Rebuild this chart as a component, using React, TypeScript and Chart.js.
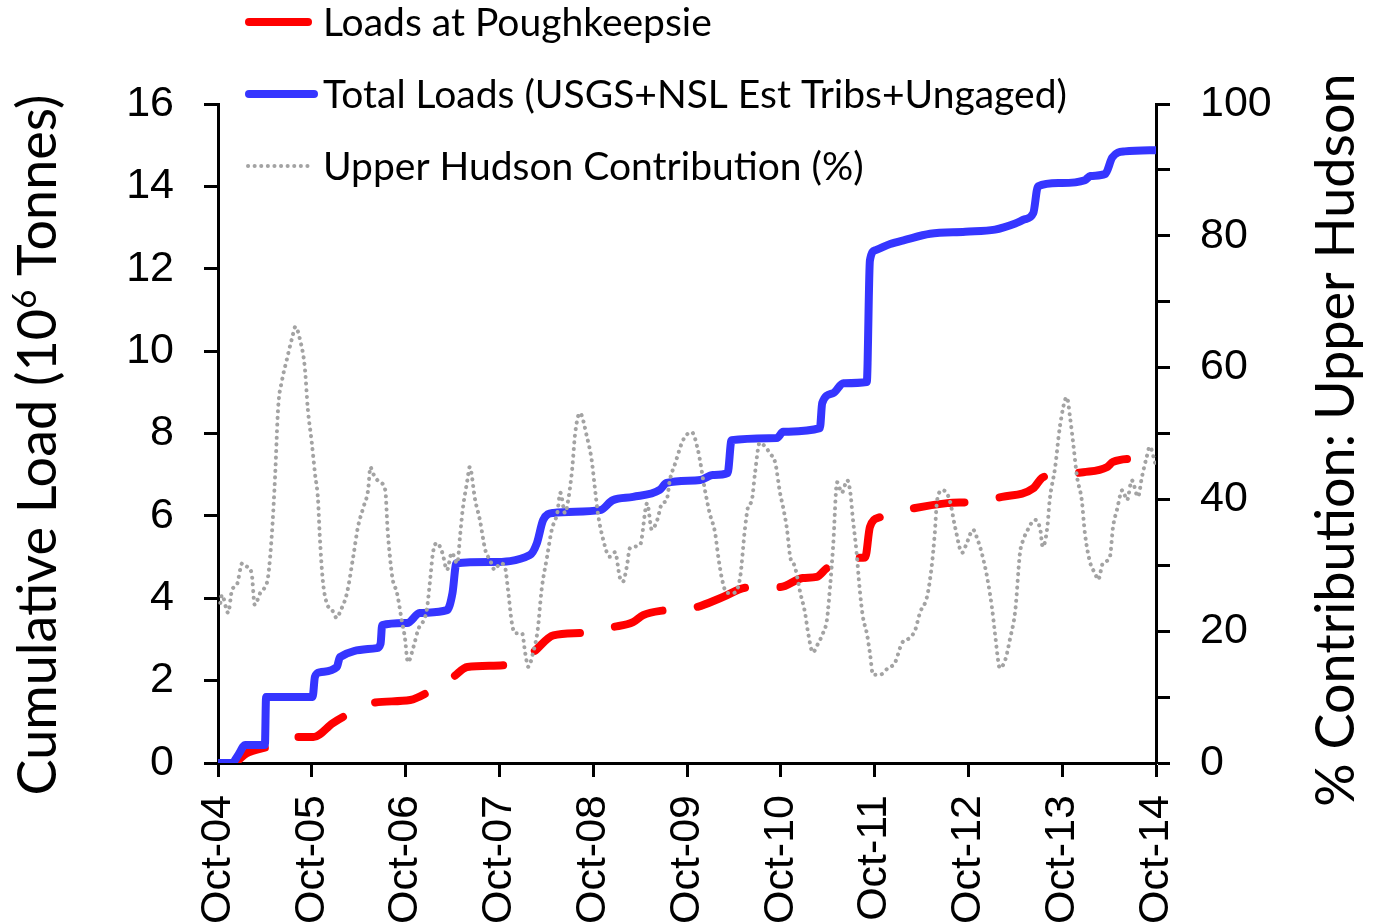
import React, { useEffect, useRef } from 'react';
import { Chart, registerables } from 'chart.js';

Chart.register(...registerables);

// X axis: months after October 2004, labelled every 12 months
const xTickLabels = ['Oct-04', 'Oct-05', 'Oct-06', 'Oct-07', 'Oct-08', 'Oct-09', 'Oct-10', 'Oct-11', 'Oct-12', 'Oct-13', 'Oct-14'];

// Loads at Poughkeepsie (10^6 tonnes)
const poughMonths = [0, 1.9, 3.7, 6.3, 10.1, 12.2, 14.7, 16.5, 19.8, 24.6, 26.9, 30.1, 31.9, 37.0, 40.3, 42.9, 46.7, 50.5, 53.1, 54.4, 57.2, 61.3, 64.6, 67.7, 71.9, 74.8, 76.6, 77.9, 81.9, 82.8, 83.4, 84.7, 88.9, 93.3, 96.5, 100.3, 104.3, 105.4, 106.7, 110.7, 113.7, 114.5, 117.6];
const poughLoads = [0, 0, 0.24, 0.39, 0.63, 0.63, 0.97, 1.17, 1.46, 1.53, 1.72, 2.09, 2.33, 2.38, 2.69, 3.1, 3.16, 3.3, 3.42, 3.59, 3.71, 3.79, 4.03, 4.26, 4.27, 4.49, 4.52, 4.73, 4.98, 4.99, 5.73, 5.97, 6.18, 6.31, 6.34, 6.46, 6.67, 6.92, 6.99, 7.06, 7.18, 7.31, 7.4];

// Total loads (USGS + NSL est. tribs + ungaged) (10^6 tonnes)
const totalMonths = [0, 1.8, 2.6, 3.5, 6.0, 6.15, 12.1, 12.4, 13.0, 15.2, 15.6, 20.3, 20.8, 21.0, 24.2, 25.8, 29.3, 30.0, 30.5, 34.8, 39.9, 40.8, 41.6, 42.9, 48.9, 50.5, 53.1, 56.5, 57.4, 61.7, 63.3, 65.2, 65.7, 71.5, 72.3, 77.0, 77.3, 78.7, 80.0, 83.0, 83.4, 84.1, 86.0, 87.9, 91.1, 95.6, 99.4, 102.0, 103.2, 104.3, 104.9, 107.7, 110.9, 111.6, 113.5, 114.4, 116.0, 120];
const totalLoads = [0, 0, 0.2, 0.44, 0.44, 1.6, 1.6, 2.09, 2.2, 2.33, 2.57, 2.79, 2.9, 3.35, 3.4, 3.64, 3.71, 4.13, 4.85, 4.88, 5.05, 5.34, 5.9, 6.07, 6.14, 6.38, 6.46, 6.63, 6.8, 6.87, 6.99, 7.04, 7.84, 7.89, 8.04, 8.13, 8.74, 8.98, 9.22, 9.25, 12.2, 12.45, 12.6, 12.7, 12.85, 12.9, 12.95, 13.1, 13.2, 13.35, 14.0, 14.08, 14.15, 14.25, 14.3, 14.7, 14.85, 14.88];

// Upper Hudson contribution (%)
const upperMonths = [0.3, 0.5, 1.3, 1.8, 2.4, 3.1, 3.7, 4.3, 4.7, 5.4, 6.0, 6.4, 6.9, 7.3, 7.7, 8.2, 8.8, 9.5, 9.9, 10.5, 11.1, 11.5, 12.0, 12.4, 12.8, 13.0, 13.4, 13.9, 14.6, 15.2, 15.6, 16.5, 17.3, 17.9, 18.6, 19.2, 19.5, 19.8, 20.7, 21.4, 21.7, 22.3, 22.9, 23.5, 23.9, 24.3, 25.0, 25.6, 26.7, 27.1, 27.5, 28.0, 28.7, 29.3, 29.9, 30.6, 31.0, 31.3, 31.9, 32.2, 32.9, 33.5, 34.2, 34.8, 35.4, 36.1, 36.7, 37.1, 37.6, 38.0, 38.9, 39.3, 39.7, 40.3, 40.9, 41.4, 42.1, 42.7, 43.4, 43.8, 44.4, 44.8, 45.3, 45.7, 46.3, 47.2, 47.8, 48.2, 48.6, 49.3, 50.1, 50.8, 51.4, 51.8, 52.3, 52.7, 54.0, 54.9, 55.5, 56.2, 56.8, 57.4, 57.8, 58.5, 59.5, 60.6, 61.4, 62.3, 62.9, 63.6, 64.0, 64.5, 65.1, 65.9, 66.8, 67.4, 67.8, 68.3, 68.7, 69.3, 70.0, 70.6, 71.3, 71.9, 72.3, 72.8, 73.2, 73.8, 74.5, 75.1, 75.5, 76.1, 76.8, 77.4, 77.9, 78.3, 78.7, 79.2, 79.8, 80.5, 80.9, 81.2, 81.7, 82.1, 82.5, 83.0, 83.4, 83.8, 84.7, 85.7, 86.6, 87.5, 88.5, 89.2, 89.8, 90.7, 91.3, 91.7, 92.0, 92.7, 93.6, 94.3, 95.2, 95.8, 96.6, 97.2, 97.7, 98.4, 99.0, 99.4, 99.8, 100.0, 100.7, 101.3, 102.0, 102.6, 103.0, 103.6, 104.5, 105.2, 105.5, 106.1, 106.4, 107.1, 107.7, 108.6, 109.0, 109.4, 109.9, 110.5, 110.9, 111.6, 112.2, 112.6, 113.2, 114.1, 114.5, 115.0, 115.7, 116.3, 116.9, 117.7, 118.2, 118.8, 119.2, 119.9];
const upperPct = [24.3, 25.5, 22.8, 26.3, 27, 30.3, 29.8, 28.8, 24, 25.8, 26.7, 28.2, 34.9, 43.4, 54, 58.1, 61.2, 64.6, 66.2, 64.2, 60.1, 53.6, 48.6, 44, 39.9, 34.9, 27.8, 24.3, 23.2, 22, 22.9, 25.8, 31.3, 35.8, 38.8, 41.4, 44.9, 44, 42.6, 41.4, 35.4, 28.2, 25.8, 21.7, 19.1, 15.3, 17.6, 20.2, 23.2, 27.3, 31.9, 33.4, 31.9, 29.3, 31.9, 30.3, 34.9, 38.4, 42.9, 44.9, 39.9, 36.9, 32.3, 30.8, 29.3, 30.3, 29.8, 26.3, 21.2, 19.7, 19.7, 16.7, 14.6, 16.7, 20.2, 26.3, 31.3, 35.4, 37.9, 41, 37.9, 39.9, 44.5, 50.1, 53.1, 49.5, 46, 41.9, 37.9, 33.8, 31.3, 32, 28.2, 27.5, 29.8, 32.6, 33.1, 39.4, 35.4, 36.9, 39.4, 39.9, 42.9, 45.5, 49, 50.2, 47.5, 41.4, 37.9, 34.9, 31.3, 27.8, 25.8, 25.8, 28.2, 35.4, 38.8, 39.9, 44, 48.6, 48, 47, 45.5, 41, 38.8, 35.4, 31.3, 29.8, 25.8, 22.8, 19.7, 16.8, 18.2, 19.7, 21.7, 26.7, 33, 42.6, 41, 42.9, 41, 37.3, 31.9, 26.3, 22.2, 19.7, 16.7, 13.4, 13.4, 14.4, 15.2, 18.2, 19, 20.2, 22.8, 25.2, 29.8, 34.9, 39.9, 41.4, 39.9, 35.8, 31.9, 33.4, 35.4, 33.8, 31.9, 28.2, 23.7, 19.7, 15.6, 14.4, 15.6, 18.7, 23.2, 31.9, 33.8, 35.4, 36.9, 35.4, 32.8, 35.8, 39.9, 44.9, 51, 55.5, 52.5, 48.6, 43.4, 39.9, 34.9, 30.3, 28.8, 27.8, 30.3, 31.3, 35.8, 38.4, 41.4, 39.9, 42.9, 40.4, 43.4, 46.4, 48, 45.5];

const leftTitle = ['Cumulative Load (10', '6', ' Tonnes)'];
const rightTitle = '% Contribution: Upper Hudson';

const RED = '#FF0000';
const BLUE = '#3535FF';
const GRAY = '#A3A3A3';

const TITLE_FONT = 'Lato';
const TICK_FONT = 'Liberation Sans';

const toPoints = (xs: number[], ys: number[]) => xs.map((x, i) => ({ x, y: ys[i] }));

const decorPlugin = {
  id: 'decor',
  afterDraw(chart: any) {
    const ctx: CanvasRenderingContext2D = chart.ctx;
    // Legend
    const ds = chart.data.datasets;
    const legendStyles = [
      { color: RED, width: 8, dash: [] as number[], x0: 249, x1: 308 },
      { color: BLUE, width: 8, dash: [] as number[], x0: 249, x1: 314 },
      { color: GRAY, width: 4, dash: [0.1, 6.5], x0: 248, x1: 310 },
    ];
    ds.forEach((d: any, i: number) => {
      const y = 22 + i * 72;
      const st = legendStyles[i];
      ctx.save();
      ctx.strokeStyle = st.color;
      ctx.lineWidth = st.width;
      ctx.lineCap = 'round';
      ctx.setLineDash(st.dash);
      ctx.beginPath();
      ctx.moveTo(st.x0, y);
      ctx.lineTo(st.x1, y);
      ctx.stroke();
      ctx.setLineDash([]);
      ctx.fillStyle = '#000';
      ctx.font = `39px ${TITLE_FONT}`;
      ctx.textBaseline = 'middle';
      ctx.textAlign = 'left';
      ctx.fillText(d.label, 323, y + 1);
      ctx.restore();
    });

    // Left axis title (with superscript)
    ctx.save();
    const fs = 54;
    const supFs = 33;
    ctx.font = `${fs}px ${TITLE_FONT}`;
    const w0 = ctx.measureText(leftTitle[0]).width;
    const w2 = ctx.measureText(leftTitle[2]).width;
    ctx.font = `${supFs}px ${TITLE_FONT}`;
    const w1 = ctx.measureText(leftTitle[1]).width;
    const total = w0 + w1 + w2;
    ctx.translate(56, 445);
    ctx.rotate(-Math.PI / 2);
    ctx.fillStyle = '#000';
    ctx.textBaseline = 'alphabetic';
    ctx.textAlign = 'left';
    let x = -total / 2;
    ctx.font = `${fs}px ${TITLE_FONT}`;
    ctx.fillText(leftTitle[0], x, 0);
    x += w0;
    ctx.font = `${supFs}px ${TITLE_FONT}`;
    ctx.fillText(leftTitle[1], x, -20);
    x += w1;
    ctx.font = `${fs}px ${TITLE_FONT}`;
    ctx.fillText(leftTitle[2], x, 0);
    ctx.restore();

    // Right axis title
    ctx.save();
    ctx.translate(1354, 440);
    ctx.rotate(-Math.PI / 2);
    ctx.fillStyle = '#000';
    ctx.font = `54px ${TITLE_FONT}`;
    ctx.textBaseline = 'alphabetic';
    ctx.textAlign = 'center';
    ctx.fillText(rightTitle, 0, 0);
    ctx.restore();
  },
};

export default function App() {
  const ref = useRef<HTMLCanvasElement>(null);
  useEffect(() => {
    if (!ref.current) return;
    const tickFont = { family: TICK_FONT, size: 43 };
    const chart = new Chart(ref.current, {
      type: 'line',
      data: {
        datasets: [
          {
            label: 'Loads at Poughkeepsie',
            data: toPoints(poughMonths, poughLoads),
            borderColor: RED,
            backgroundColor: RED,
            borderWidth: 8,
            borderDash: [51, 35.5],
            borderCapStyle: 'round',
            borderJoinStyle: 'round',
            cubicInterpolationMode: 'monotone',
            pointRadius: 0,
            fill: false,
            yAxisID: 'y',
            order: 3,
          },
          {
            label: 'Total Loads (USGS+NSL Est Tribs+Ungaged)',
            data: toPoints(totalMonths, totalLoads),
            borderColor: BLUE,
            backgroundColor: BLUE,
            borderWidth: 8,
            borderCapStyle: 'round',
            borderJoinStyle: 'round',
            cubicInterpolationMode: 'monotone',
            pointRadius: 0,
            fill: false,
            yAxisID: 'y',
            order: 2,
          },
          {
            label: 'Upper Hudson Contribution (%)',
            data: toPoints(upperMonths, upperPct),
            borderColor: GRAY,
            backgroundColor: GRAY,
            borderWidth: 4,
            borderDash: [0.1, 6.5],
            borderCapStyle: 'round',
            cubicInterpolationMode: 'monotone',
            pointRadius: 0,
            fill: false,
            yAxisID: 'y1',
            order: 1,
          },
        ],
      },
      options: {
        responsive: false,
        animation: false,
        devicePixelRatio: 1,
        layout: { padding: { top: 104, left: 0, right: 0, bottom: 0 } },
        plugins: { legend: { display: false }, tooltip: { enabled: false } },
        scales: {
          x: {
            type: 'linear',
            min: 0,
            max: 120,
            afterFit: (s: any) => { s.height = 161; },
            afterBuildTicks: (s: any) => { s.ticks = xTickLabels.map((_, i) => ({ value: i * 12 })); },
            ticks: {
              autoSkip: false,
              maxRotation: 90,
              minRotation: 90,
              padding: 18,
              color: '#000',
              font: tickFont,
              callback: (v: any) => xTickLabels[Math.round(Number(v) / 12)],
            },
            grid: { drawOnChartArea: false, drawTicks: true, tickLength: 14, tickWidth: 3, tickColor: '#000' },
            border: { display: true, color: '#000', width: 3 },
          },
          y: {
            position: 'left',
            min: 0,
            max: 16,
            afterFit: (s: any) => { s.width = 218; },
            ticks: { stepSize: 2, padding: 30, color: '#000', font: tickFont },
            grid: { drawOnChartArea: false, drawTicks: true, tickLength: 14, tickWidth: 3, tickColor: '#000' },
            border: { display: true, color: '#000', width: 3 },
          },
          y1: {
            position: 'right',
            min: 0,
            max: 100,
            afterFit: (s: any) => { s.width = 219; },
            ticks: {
              stepSize: 10,
              padding: 30,
              color: '#000',
              font: tickFont,
              callback: (v: any) => (Number(v) % 20 === 0 ? String(v) : ''),
            },
            grid: { drawOnChartArea: false, drawTicks: true, tickLength: 14, tickWidth: 3, tickColor: '#000' },
            border: { display: true, color: '#000', width: 3 },
          },
        },
      },
      plugins: [decorPlugin],
    } as any);
    return () => chart.destroy();
  }, []);

  return (
    <div style={{ position: 'absolute', left: 0, top: 0, width: 1375, height: 924, background: '#fff' }}>
      <canvas ref={ref} width={1375} height={924} style={{ display: 'block' }} />
    </div>
  );
}
